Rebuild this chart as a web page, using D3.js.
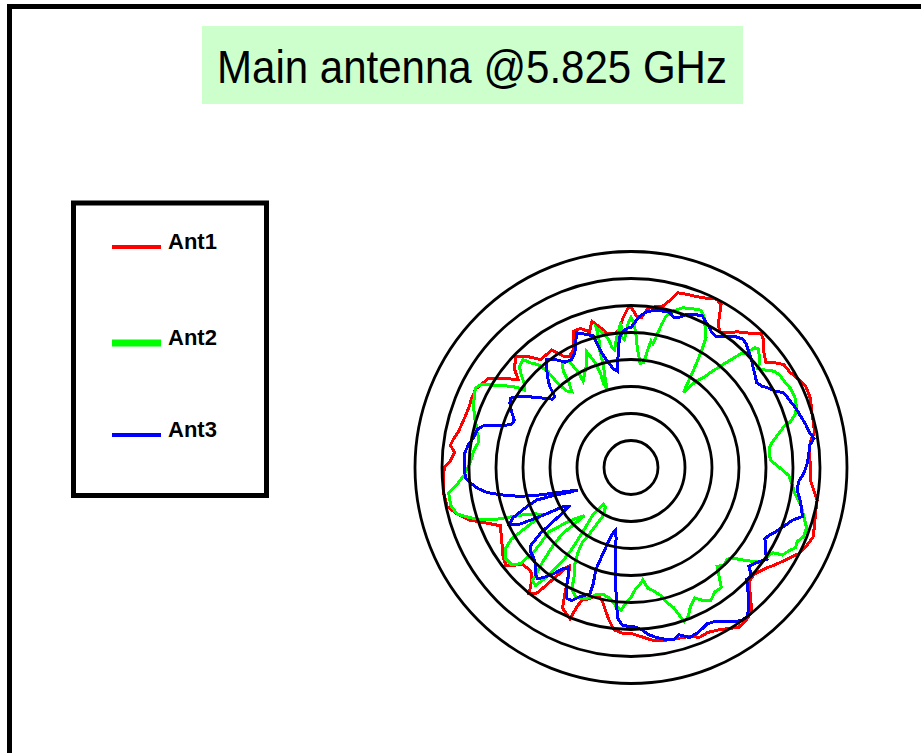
<!DOCTYPE html>
<html>
<head>
<meta charset="utf-8">
<script src="https://cdn.jsdelivr.net/npm/d3@7"></script>
<style>
  html, body { margin: 0; padding: 0; background: #fff; overflow: hidden; }
  svg { display: block; }
</style>
</head>
<body>
<svg id="chart" width="921" height="753"></svg>
<script>
// Chart text
const chartTitle = "Main antenna @5.825 GHz";
const seriesNames = ["Ant1", "Ant2", "Ant3"];

// Radial grid levels (dB, relative to peak)
const ringLevels = [-35, -30, -25, -20, -15, -10, -5, 0];

// Measured patterns: [azimuth in degrees (clockwise from top), relative gain in dB]
const ant1 = [
  [0,-10.2],[2,-11.9],[4,-12.2],[6,-10.4],[9,-9.8],[11,-9.6],[13,-8.3],[15,-6.5],[18,-6.3],[21,-6.1],
  [24,-5.7],[27,-5.0],[29,-5.6],[31,-8.5],[33,-10.0],[35,-9.6],[38,-8.1],[41,-7.0],[44,-5.4],[46,-5.9],
  [49,-7.4],[52,-8.3],[54,-7.0],[56,-5.9],[59,-5.7],[62,-5.0],[65,-4.3],[69,-4.4],[73,-5.0],[76,-5.2],
  [79,-5.4],[82,-6.5],[86,-6.9],[90,-6.7],[94,-6.7],[97,-5.9],[100,-5.0],[104,-4.8],[108,-4.3],[111,-3.9],
  [114,-4.4],[117,-5.0],[119,-5.9],[121,-6.7],[124,-7.8],[127,-8.9],[129,-9.4],[131,-9.8],[134,-9.6],[137,-7.6],
  [140,-5.2],[143,-4.6],[146,-4.3],[149,-5.2],[152,-5.9],[155,-6.3],[158,-6.1],[161,-6.9],[165,-7.2],[169,-7.4],
  [173,-7.8],[176,-8.5],[180,-9.3],[183,-9.3],[186,-9.8],[188,-11.3],[190,-13.0],[192,-14.6],[194,-15.4],[196,-15.2],
  [198,-14.4],[200,-13.9],[201,-12.8],[202,-9.8],[204,-10.4],[206,-11.1],[208,-14.1],[210,-16.9],[212,-18.5],[213,-17.8],
  [214,-16.3],[215,-14.6],[216,-12.6],[217,-10.7],[219,-10.0],[221,-11.9],[223,-13.1],[225,-13.3],[228,-13.1],[230,-11.9],
  [232,-10.6],[235,-11.1],[238,-11.9],[242,-12.8],[246,-13.5],[249,-11.3],[252,-8.5],[255,-6.7],[258,-5.2],[262,-5.0],
  [266,-5.2],[270,-5.4],[272,-6.5],[275,-7.2],[277,-6.3],[279,-6.7],[282,-7.4],[286,-7.8],[290,-8.0],[294,-7.8],
  [297,-7.8],[300,-8.5],[302,-8.9],[305,-11.3],[308,-13.5],[310,-11.9],[312,-11.1],[314,-10.4],[317,-11.9],[320,-13.9],
  [323,-13.9],[326,-13.7],[329,-16.1],[331,-16.5],[334,-15.7],[337,-12.6],[340,-12.6],[343,-13.7],[345,-12.0],[347,-13.1],
  [350,-14.8],[353,-15.0],[355,-14.4],[357,-12.2],[359,-10.4]
];

const ant2 = [
  [0,-12.2],[1,-13.1],[2,-15.0],[3,-17.8],[4,-19.3],[5,-20.7],[7,-20.4],[8,-18.1],[9,-16.3],[10,-16.7],
  [11,-15.2],[12,-13.1],[13,-11.3],[15,-10.0],[18,-8.9],[21,-8.5],[24,-8.1],[26,-9.1],[28,-10.7],[30,-12.2],
  [31,-14.4],[32,-16.9],[33,-19.1],[34,-21.5],[35,-23.0],[36,-21.5],[37,-20.0],[39,-18.5],[40,-17.0],[42,-14.1],
  [44,-10.7],[45,-10.0],[46,-8.1],[47,-7.8],[49,-8.5],[51,-9.4],[52,-10.2],[54,-9.3],[56,-8.1],[58,-7.6],
  [61,-7.4],[64,-7.0],[67,-7.0],[70,-7.4],[72,-8.0],[74,-9.3],[75,-10.7],[77,-11.9],[79,-13.0],[81,-13.9],
  [84,-14.3],[87,-14.1],[89,-13.1],[91,-11.9],[93,-10.7],[96,-10.0],[99,-9.3],[101,-8.5],[103,-7.6],[106,-6.7],
  [109,-5.6],[112,-5.6],[114,-6.3],[116,-6.1],[118,-7.0],[120,-7.6],[121,-9.4],[123,-9.8],[126,-10.2],[129,-12.6],
  [132,-15.0],[134,-15.4],[136,-15.0],[139,-15.7],[141,-14.1],[143,-12.2],[146,-12.2],[149,-11.3],[152,-12.2],[154,-13.1],
  [157,-11.9],[159,-10.4],[161,-9.8],[163,-12.8],[165,-14.1],[167,-15.7],[170,-16.9],[172,-17.4],[174,-19.1],[176,-18.1],
  [178,-17.4],[180,-15.9],[182,-15.0],[184,-13.5],[186,-14.1],[189,-15.4],[192,-15.9],[195,-15.7],[198,-14.6],[200,-14.1],
  [203,-13.9],[206,-15.0],[208,-17.8],[210,-19.1],[212,-21.5],[213,-23.3],[212,-25.6],[211,-28.0],[210,-29.8],[213,-31.3],
  [217,-31.5],[219,-28.9],[217,-25.6],[216,-21.9],[216,-19.1],[217,-16.5],[218,-13.7],[219,-11.9],[221,-12.2],[223,-15.9],
  [225,-19.6],[226,-22.4],[225,-25.2],[224,-27.6],[226,-26.7],[228,-25.6],[230,-23.9],[231,-22.0],[232,-20.7],[230,-18.1],
  [229,-16.3],[229,-14.4],[229,-12.8],[231,-11.5],[234,-11.3],[237,-12.2],[239,-14.1],[240,-16.9],[241,-19.6],[242,-21.5],
  [244,-20.4],[246,-18.7],[247,-17.0],[248,-15.4],[249,-13.1],[251,-10.4],[253,-8.5],[255,-6.7],[258,-5.9],[262,-5.9],
  [264,-7.4],[267,-8.9],[270,-9.8],[273,-10.4],[276,-10.7],[279,-11.3],[281,-11.3],[283,-10.7],[285,-10.4],[287,-9.8],
  [289,-9.3],[292,-8.5],[295,-8.1],[297,-7.6],[299,-8.3],[301,-10.4],[303,-12.2],[305,-14.1],[306,-15.6],[308,-15.0],
  [310,-13.5],[312,-12.2],[315,-11.7],[316,-13.0],[318,-14.4],[319,-16.3],[319,-18.1],[319,-19.6],[320,-21.5],[322,-22.2],
  [324,-20.4],[325,-18.1],[327,-16.7],[330,-17.4],[331,-20.0],[331,-21.7],[333,-20.9],[336,-19.6],[338,-18.1],[339,-17.0],
  [341,-19.3],[342,-21.5],[342,-23.7],[343,-24.8],[344,-22.4],[345,-20.0],[345,-17.8],[346,-15.4],[346,-13.3],[348,-14.4],
  [350,-15.9],[351,-17.4],[352,-18.0],[354,-15.4],[356,-13.1],[356,-15.9],[357,-16.3],[359,-13.1]
];

const ant3 = [
  [0,-14.1],[2,-12.8],[4,-11.7],[6,-10.9],[9,-10.6],[12,-10.4],[14,-10.4],[16,-11.1],[18,-10.7],[20,-9.8],
  [23,-9.3],[25,-8.9],[27,-9.6],[29,-10.2],[31,-10.9],[33,-11.1],[36,-10.0],[39,-8.9],[41,-8.5],[43,-8.7],
  [45,-9.3],[48,-10.0],[50,-10.6],[53,-11.3],[56,-11.9],[58,-11.5],[60,-10.6],[62,-9.8],[64,-8.5],[67,-8.1],
  [70,-7.6],[73,-7.2],[76,-6.7],[79,-6.3],[81,-5.7],[83,-6.7],[86,-7.0],[89,-7.4],[92,-8.0],[95,-8.9],
  [98,-8.9],[101,-8.1],[104,-7.4],[106,-7.0],[108,-8.5],[110,-9.3],[112,-10.0],[114,-10.7],[116,-11.5],[118,-11.9],
  [120,-11.3],[122,-10.7],[124,-9.6],[126,-10.4],[128,-11.1],[130,-11.5],[132,-10.0],[134,-10.2],[136,-8.9],[138,-7.4],
  [140,-6.1],[142,-5.0],[144,-5.0],[146,-5.6],[149,-6.7],[152,-7.6],[154,-7.8],[156,-7.4],[158,-7.0],[161,-6.7],
  [164,-7.8],[166,-7.2],[169,-7.6],[172,-8.3],[174,-8.9],[176,-9.8],[178,-10.4],[181,-10.6],[183,-10.7],[185,-11.9],
  [186,-14.4],[188,-19.3],[190,-23.7],[192,-26.7],[194,-28.0],[196,-27.0],[198,-23.3],[199,-20.0],[198,-17.4],[198,-15.4],
  [200,-14.8],[202,-14.1],[204,-13.0],[206,-13.0],[208,-14.4],[210,-16.7],[212,-18.1],[214,-17.4],[216,-15.7],[218,-14.3],
  [220,-13.1],[222,-13.5],[224,-14.6],[227,-15.4],[230,-15.7],[232,-16.3],[234,-19.3],[235,-21.9],[236,-24.1],[238,-26.3],
  [240,-25.6],[241,-23.0],[242,-20.0],[243,-16.9],[245,-15.2],[247,-16.3],[249,-18.9],[251,-21.5],[250,-24.8],[248,-27.8],
  [247,-29.3],[249,-27.8],[252,-24.4],[254,-20.9],[256,-18.1],[258,-15.6],[260,-13.1],[262,-11.5],[264,-10.4],[266,-9.4],
  [269,-9.1],[272,-9.1],[275,-9.1],[278,-9.6],[281,-10.4],[284,-10.7],[286,-11.7],[287,-13.1],[288,-15.0],[290,-16.5],
  [292,-16.7],[295,-15.6],[298,-14.6],[300,-14.3],[302,-15.2],[305,-17.2],[308,-19.1],[311,-20.7],[313,-20.7],[315,-18.7],
  [317,-17.4],[320,-15.6],[322,-14.6],[325,-15.6],[328,-17.0],[331,-17.2],[334,-16.3],[336,-14.8],[338,-13.1],[341,-13.9],
  [344,-14.6],[345,-16.9],[346,-18.5],[348,-20.2],[350,-21.5],[352,-22.0],[353,-20.0],[354,-17.8],[355,-15.7],[357,-14.6],
  [359,-14.1]
];

const seriesData = [ant1, ant2, ant3];
const seriesColors = ["#ff0000", "#00ff00", "#0000ff"];

const W = 921, H = 753;
const svg = d3.select("#chart");

svg.append("rect").attr("width", W).attr("height", H).attr("fill", "#ffffff");

// Outer frame (runs off the right and bottom edges)
svg.append("rect")
  .attr("x", 9.5).attr("y", 6.5)
  .attr("width", W + 40).attr("height", H + 40)
  .attr("fill", "none").attr("stroke", "#000").attr("stroke-width", 5);

// Title banner
svg.append("rect")
  .attr("x", 202).attr("y", 26).attr("width", 541).attr("height", 78)
  .attr("fill", "#ccffcc");
svg.append("text")
  .attr("x", 217).attr("y", 83)
  .attr("font-family", "'Liberation Sans', Arial, sans-serif")
  .attr("font-size", 46)
  .attr("textLength", 510)
  .attr("lengthAdjust", "spacingAndGlyphs")
  .attr("fill", "#000")
  .text(chartTitle);

// Polar plot
const cx = 631, cy = 467.5, R = 216;
const rScale = d3.scaleLinear().domain([-40, 0]).range([0, R]);
const plot = svg.append("g").attr("transform", `translate(${cx},${cy})`);

const radial = d3.lineRadial()
  .angle(d => d[0] * Math.PI / 180)
  .radius(d => rScale(d[1]))
  .curve(d3.curveLinearClosed);

plot.selectAll("path.trace")
  .data(seriesData)
  .join("path")
  .attr("class", "trace")
  .attr("d", d => radial(d))
  .attr("fill", "none")
  .attr("stroke", (d, i) => seriesColors[i])
  .attr("stroke-width", 3)
  .attr("stroke-linejoin", "miter")
  .attr("shape-rendering", "crispEdges");

plot.selectAll("circle.ring")
  .data(ringLevels)
  .join("circle")
  .attr("class", "ring")
  .attr("r", d => rScale(d))
  .attr("fill", "none")
  .attr("stroke", "#000")
  .attr("stroke-width", 2.8);

// Legend
const legend = svg.append("g");
legend.append("rect")
  .attr("x", 73.5).attr("y", 203).attr("width", 193).attr("height", 292.5)
  .attr("fill", "#fff").attr("stroke", "#000").attr("stroke-width", 5);

const legendY = [247, 343, 435];
const legendStroke = [4, 7, 4];
seriesNames.forEach((name, i) => {
  legend.append("line")
    .attr("x1", 112).attr("x2", 161)
    .attr("y1", legendY[i]).attr("y2", legendY[i])
    .attr("stroke", seriesColors[i]).attr("stroke-width", legendStroke[i]);
  legend.append("text")
    .attr("x", 168).attr("y", legendY[i] - 4)
    .attr("dominant-baseline", "middle")
    .attr("font-family", "'Liberation Sans', Arial, sans-serif")
    .attr("font-weight", "bold")
    .attr("font-size", 22)
    .attr("fill", "#000")
    .text(name);
});
</script>
</body>
</html>
